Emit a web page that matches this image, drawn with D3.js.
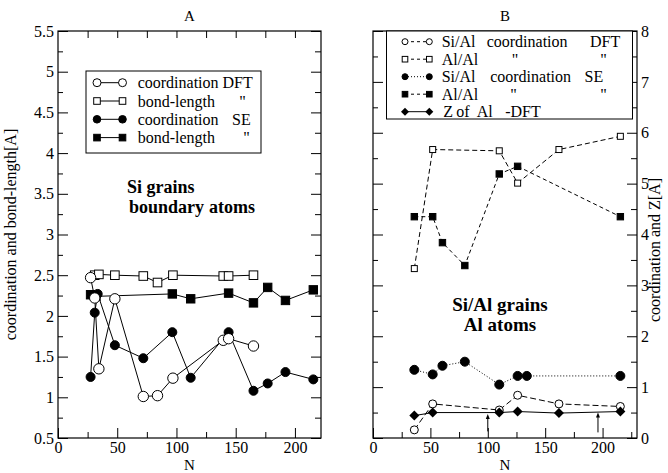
<!DOCTYPE html>
<html>
<head>
<meta charset="utf-8">
<script src="https://cdn.jsdelivr.net/npm/d3@7"></script>
<style>
    body { margin: 0; background: #fff; }
    svg text { font-family: "Liberation Serif", "Times New Roman", Times, "DejaVu Serif", serif; fill: #000; }
    .tick line { stroke: #000; }
</style>
</head>
<body>
<svg id="chart"></svg>
<script>
'use strict';

// panel A : Si grains, boundary atoms
var nCoordDft = [27.5, 31, 34.5, 48, 72, 84, 97, 139.5, 144, 165];
var coordDft  = [2.47, 2.22, 1.35, 2.21, 1.01, 1.02, 1.235, 1.70, 1.72, 1.63];
var nBondDft  = [31, 34.5, 48, 72, 84, 97, 139.5, 144, 165];
var bondDft   = [2.50, 2.51, 2.50, 2.49, 2.41, 2.50, 2.49, 2.49, 2.50];
var nCoordSe  = [27.5, 31, 33.5, 48, 72, 96.5, 112, 144, 165, 177, 192, 215.5];
var coordSe   = [1.25, 2.04, 2.27, 1.64, 1.48, 1.80, 1.24, 1.80, 1.08, 1.17, 1.31, 1.22];
var nBondSe   = [27.5, 32, 96.5, 112, 144, 165, 177, 192, 215.5];
var bondSe    = [2.26, 2.24, 2.27, 2.21, 2.28, 2.16, 2.35, 2.19, 2.32];

// panel B : Si/Al grains, Al atoms
var nDft       = [36, 52, 110, 126, 162, 215.5];
var siAlDft    = [0.16, 0.67, 0.55, 0.84, 0.67, 0.62];
var alAlDft    = [3.33, 5.67, 5.645, 5.01, 5.67, 5.93];
var zAlDft     = [0.44, 0.50, 0.50, 0.52, 0.49, 0.52];
var nSiAlSe    = [36, 52, 60.5, 80, 110, 126, 134, 215.5];
var siAlSe     = [1.34, 1.25, 1.42, 1.50, 1.05, 1.22, 1.22, 1.22];
var nAlAlSe    = [36, 52, 60.5, 80, 110, 126, 215.5];
var alAlSe     = [4.35, 4.35, 3.84, 3.39, 5.19, 5.34, 4.35];
var arrowN     = [100, 196];
var arrowFrom  = [0.13, 0.11];
var arrowTo    = [0.47, 0.50];

var legendA = [
    [{t: "coordination DFT", x: 0}],
    [{t: "bond-length", x: 0}, {t: "\"", x: 101.6}],
    [{t: "coordination", x: 0}, {t: "SE", x: 113, end: true}],
    [{t: "bond-length", x: 0}, {t: "\"", x: 105.6}]
];
var legendB = [
    [{t: "Si/Al", x: 0}, {t: "coordination", x: 45}, {t: "DFT", x: 178.5, end: true}],
    [{t: "Al/Al", x: 0}, {t: "\"", x: 70}, {t: "\"", x: 158.5}],
    [{t: "Si/Al", x: 0}, {t: "coordination", x: 48.5}, {t: "SE", x: 161.5, end: true}],
    [{t: "Al/Al", x: 0}, {t: "\"", x: 68.5}, {t: "\"", x: 158.5}],
    [{t: "Z", x: 1.5}, {t: "of", x: 14.5}, {t: "Al", x: 35}, {t: "-DFT", x: 63.5}]
];

var FONT = "'Liberation Serif', 'Times New Roman', Times, 'DejaVu Serif', serif";

var width = 668,
    height = 473;

var svg = d3.select("#chart")
            .attr("width", width)
            .attr("height", height);

svg.append("rect").attr("width", width).attr("height", height).attr("fill", "#fff");

function pairs(xs, ys) {
    return xs.map(function(x, i) { return [x, ys[i]]; });
}

function drawAxes(x, y, opts) {
    var r = x.range(), t = y.range();
    var majorX = d3.range(0, x.domain()[1] + 0.01, 50),
        minorX = d3.range(25, x.domain()[1] + 0.01, 50),
        majorY = d3.range(y.domain()[0], y.domain()[1] + 0.001, opts.yStep),
        minorY = d3.range(y.domain()[0] + opts.yStep / 2, y.domain()[1], opts.yStep);

    function add(axis, tx, ty, vals, size, labels) {
        var g = svg.append("g")
                    .attr("transform", "translate(" + tx + "," + ty + ")")
                    .call(axis.tickValues(vals).tickSize(-size).tickPadding(labels ? opts.pad || 5 : 0)
                              .tickFormat(labels ? function(d) { return String(+d.toFixed(2)); } : ""));
        g.attr("font-family", FONT).attr("font-size", 16);
        g.select(".domain").remove();
        return g;
    }

    add(d3.axisBottom(x), 0, t[0], majorX, 10, true).selectAll("text").attr("dy", "0.7em");
    add(d3.axisBottom(x), 0, t[0], minorX, 6, false);
    add(d3.axisTop(x), 0, t[1], d3.range(25, x.domain()[1], 25), 7, false);

    add(d3.axisLeft(y), r[0], 0, majorY, 10, opts.labelLeft);
    add(d3.axisLeft(y), r[0], 0, minorY, 5, false);
    add(d3.axisRight(y), r[1], 0, majorY, 10, !opts.labelLeft);
    add(d3.axisRight(y), r[1], 0, minorY, 6, false);

    svg.append("rect")
        .attr("x", r[0]).attr("y", t[1])
        .attr("width", r[1] - r[0]).attr("height", t[0] - t[1])
        .attr("fill", "none").attr("stroke", "#000").attr("stroke-width", 1.2);
}

function marker(g, shape, cx, cy, s) {
    if (shape === "circle" || shape === "dot") {
        g.append("circle").attr("cx", cx).attr("cy", cy).attr("r", s)
            .attr("fill", shape === "dot" ? "#000" : "#fff").attr("stroke", "#000").attr("stroke-width", 1);
    } else if (shape === "square" || shape === "block") {
        g.append("rect").attr("x", cx - s).attr("y", cy - s).attr("width", 2 * s).attr("height", 2 * s)
            .attr("fill", shape === "block" ? "#000" : "#fff").attr("stroke", "#000").attr("stroke-width", 1);
    } else {
        g.append("path").attr("d", "M" + cx + "," + (cy - s) + "L" + (cx + s) + "," + cy + "L" + cx + "," + (cy + s) + "L" + (cx - s) + "," + cy + "Z")
            .attr("fill", "#000");
    }
}

function series(x, y, xs, ys, shape, size, dash) {
    var data = pairs(xs, ys);
    var line = d3.line().x(function(d) { return x(d[0]); }).y(function(d) { return y(d[1]); });
    var g = svg.append("g");
    g.append("path")
        .attr("d", line(data))
        .attr("fill", "none")
        .attr("stroke", "#000")
        .attr("stroke-width", 1)
        .attr("stroke-dasharray", dash);
    data.forEach(function(d) { marker(g, shape, x(d[0]), y(d[1]), size); });
}

function legend(box, rows, symbols, rowStep, fontSize) {
    svg.append("rect")
        .attr("x", box.x).attr("y", box.y).attr("width", box.w).attr("height", box.h)
        .attr("fill", "#fff").attr("stroke", "#000").attr("stroke-width", 1);
    rows.forEach(function(row, i) {
        var cy = box.first + i * rowStep,
            sym = symbols[i],
            g = svg.append("g");
        g.append("line")
            .attr("x1", box.s1).attr("x2", box.s2).attr("y1", cy).attr("y2", cy)
            .attr("stroke", "#000").attr("stroke-width", 1).attr("stroke-dasharray", sym.dash);
        marker(g, sym.shape, box.s1, cy, sym.size);
        marker(g, sym.shape, box.s2, cy, sym.size);
        row.forEach(function(p) {
            g.append("text")
                .attr("x", box.tx + p.x).attr("y", cy + 5.5)
                .attr("text-anchor", p.end ? "end" : "start")
                .style("font-family", FONT)
                .style("font-size", fontSize + "px")
                .text(p.t);
        });
    });
}

function label(txt, x, y, size, opts) {
    opts = opts || {};
    return svg.append("text")
        .attr("x", x).attr("y", y)
        .attr("text-anchor", opts.anchor || "middle")
        .attr("transform", opts.rotate ? "rotate(-90," + x + "," + y + ")" : null)
        .style("font-family", FONT)
        .style("font-size", size + "px")
        .style("font-weight", opts.bold ? "bold" : null)
        .text(txt);
}

// ---- panel A
var xA = d3.scaleLinear().domain([0, 222]).range([58, 321]),
    yA = d3.scaleLinear().domain([0.5, 5.5]).range([438, 31]);

drawAxes(xA, yA, {yStep: 0.5, labelLeft: true, pad: 4});

series(xA, yA, nBondDft, bondDft, "square", 4.3, null);
series(xA, yA, nBondSe, bondSe, "block", 4.2, null);
series(xA, yA, nCoordSe, coordSe, "dot", 4.5, null);
series(xA, yA, nCoordDft, coordDft, "circle", 5.2, null);

legend({x: 86, y: 71, w: 175, h: 82, first: 82.7, s1: 97, s2: 122.5, tx: 137.7}, legendA, [
    {shape: "circle", size: 4, dash: null},
    {shape: "square", size: 3.3, dash: null},
    {shape: "dot", size: 3.8, dash: null},
    {shape: "block", size: 3.3, dash: null}
], 18.3, 16);

label("A", 189.5, 21, 15);
label("N", 189.5, 469.5, 15);
label("coordination and bond-length[A]", 16, 234.5, 16, {rotate: true});
label("Si grains", 127, 193, 18, {anchor: "start", bold: true});
label("boundary", 129, 213, 18, {anchor: "start", bold: true});
label("atoms", 255, 213, 18, {anchor: "end", bold: true});

// ---- panel B
var xB = d3.scaleLinear().domain([0, 230]).range([373, 637]),
    yB = d3.scaleLinear().domain([0, 8]).range([438, 31]);

drawAxes(xB, yB, {yStep: 1, labelLeft: false, pad: 4});

series(xB, yB, nAlAlSe, alAlSe, "block", 3.2, "4,3");
series(xB, yB, nDft, alAlDft, "square", 3, "5,3");
series(xB, yB, nSiAlSe, siAlSe, "dot", 4.5, "1,2");
series(xB, yB, nDft, siAlDft, "circle", 4, "6,3");
series(xB, yB, nDft, zAlDft, "diamond", 5, null);

arrowN.forEach(function(n, i) {
    var ax = xB(n), y0 = yB(arrowFrom[i]), y1 = yB(arrowTo[i]);
    svg.append("line").attr("x1", ax).attr("x2", ax).attr("y1", y0).attr("y2", y1 + 4)
        .attr("stroke", "#000").attr("stroke-width", 1);
    svg.append("path")
        .attr("d", "M" + ax + "," + y1 + "L" + (ax + 2) + "," + (y1 + 5) + "L" + (ax - 2) + "," + (y1 + 5) + "Z")
        .attr("fill", "#000");
});

legend({x: 386.5, y: 31, w: 246, h: 88, first: 41.7, s1: 405, s2: 429.3, tx: 441.7}, legendB, [
    {shape: "circle", size: 3, dash: "3,3"},
    {shape: "square", size: 2.8, dash: "3,3"},
    {shape: "dot", size: 3, dash: "1,2"},
    {shape: "block", size: 2.8, dash: "3,3"},
    {shape: "diamond", size: 4, dash: null}
], 17.5, 16);

label("B", 505, 21, 15);
label("N", 505, 469.5, 15);
label("coordination and Z[A]", 660, 250, 16, {rotate: true});
label("Si/Al grains", 500, 311, 19, {bold: true});
label("Al atoms", 500, 331, 19, {bold: true});
</script>
</body>
</html>
